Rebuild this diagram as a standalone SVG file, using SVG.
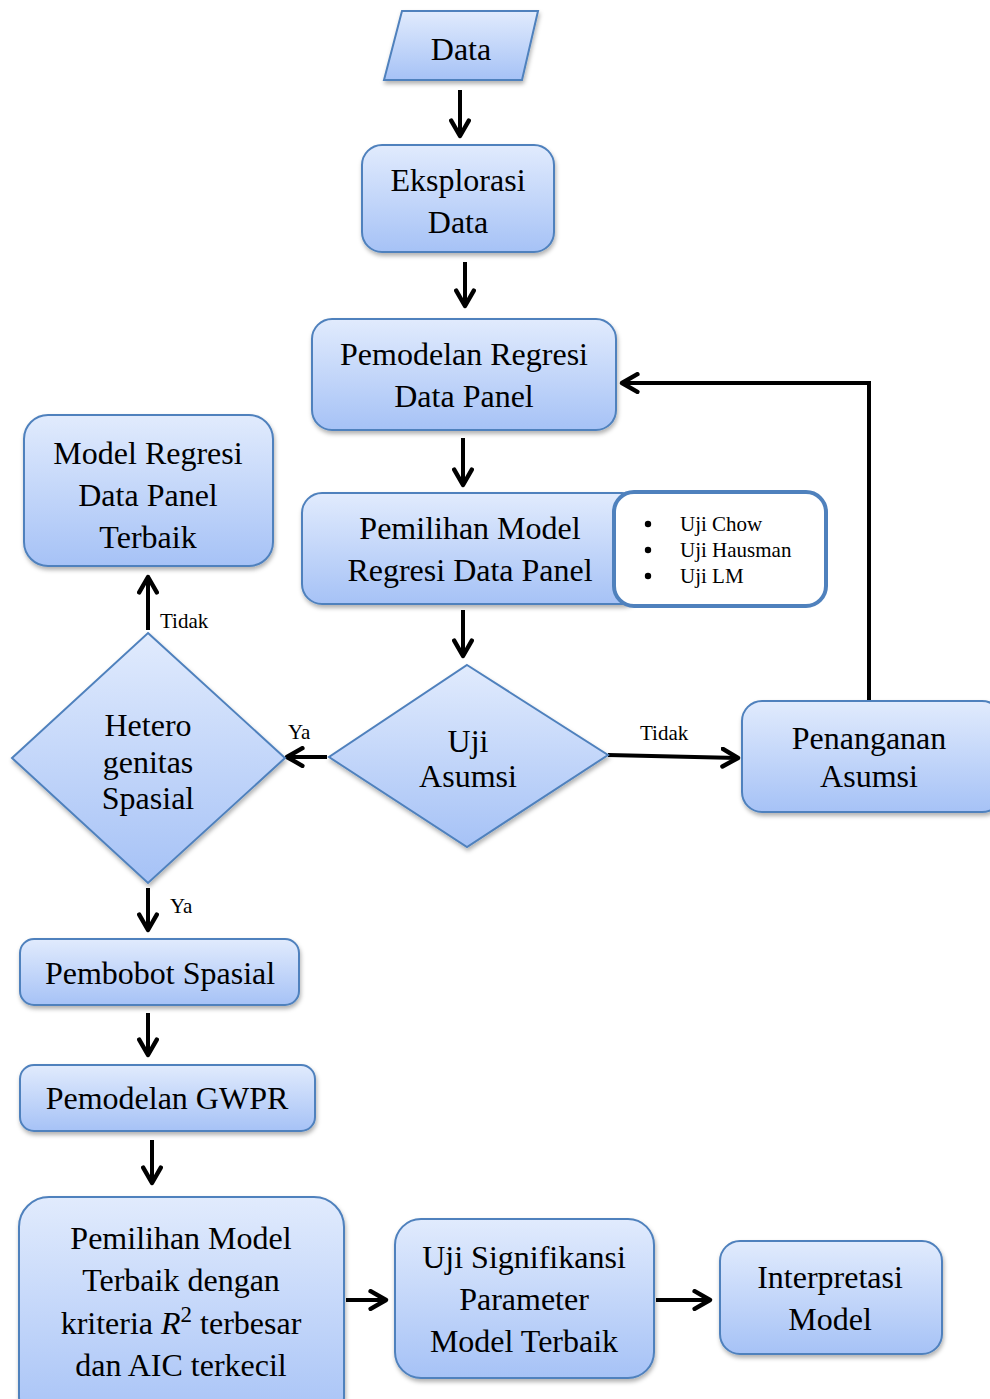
<svg xmlns="http://www.w3.org/2000/svg" width="990" height="1399" viewBox="0 0 990 1399">
<defs>
<linearGradient id="g" x1="0" y1="0" x2="0" y2="1">
<stop offset="0" stop-color="#e1ebfd"/>
<stop offset="1" stop-color="#a6c2f6"/>
</linearGradient>
<filter id="sh" x="-10%" y="-10%" width="125%" height="130%">
<feDropShadow dx="1" dy="3" stdDeviation="2" flood-color="#000" flood-opacity="0.3"/>
</filter>
<marker id="ah" viewBox="0 0 10 10" refX="8" refY="5" markerWidth="5.5" markerHeight="5.5" orient="auto" markerUnits="strokeWidth">
<path d="M1,1 L8,5 L1,9" fill="none" stroke="#000" stroke-width="2" stroke-linecap="round" stroke-linejoin="round"/>
</marker>
</defs>
<style>
.n{fill:url(#g);stroke:#4f81bd;stroke-width:2;filter:url(#sh)}
.t{font-family:"Liberation Serif",serif;font-size:32px;fill:#000;text-anchor:middle}
.s{font-family:"Liberation Serif",serif;font-size:21px;fill:#000}
.c{fill:none;stroke:#000;stroke-width:4;marker-end:url(#ah)}
</style>
<rect width="990" height="1399" fill="#fff"/>

<g id="connectors">
<line class="c" x1="460" y1="90" x2="460" y2="136"/>
<line class="c" x1="465" y1="262" x2="465" y2="306"/>
<line class="c" x1="463" y1="438" x2="463" y2="485"/>
<polyline class="c" points="869,700 869,383 622,383"/>
<line class="c" x1="463" y1="610" x2="463" y2="656"/>
<line class="c" x1="608" y1="755" x2="738" y2="758"/>
<line class="c" x1="327" y1="757" x2="287" y2="757"/>
<line class="c" x1="148" y1="630" x2="148" y2="577"/>
<line class="c" x1="148" y1="888" x2="148" y2="930"/>
<line class="c" x1="148" y1="1013" x2="148" y2="1055"/>
<line class="c" x1="152" y1="1140" x2="152" y2="1183"/>
<line class="c" x1="346" y1="1300" x2="386" y2="1300"/>
<line class="c" x1="656" y1="1300" x2="710" y2="1300"/>
<text class="s" x="640" y="740">Tidak</text>
<text class="s" x="288" y="739">Ya</text>
<text class="s" x="160" y="628">Tidak</text>
<text class="s" x="170" y="913">Ya</text>
</g>

<g id="data">
<polygon class="n" points="402,11 538,11 522,80 384,80"/>
<text class="t" x="461" y="60">Data</text>
</g>

<g id="eksplorasi">
<rect class="n" x="362" y="145" width="192" height="107" rx="20"/>
<text class="t" x="458" y="191">Eksplorasi</text>
<text class="t" x="458" y="233">Data</text>
</g>

<g id="pemodelan-regresi">
<rect class="n" x="312" y="319" width="304" height="111" rx="20"/>
<text class="t" x="464" y="365">Pemodelan Regresi</text>
<text class="t" x="464" y="407">Data Panel</text>
</g>

<g id="pemilihan-model">
<rect class="n" x="302" y="493" width="340" height="111" rx="20"/>
<text class="t" x="470" y="539">Pemilihan Model</text>
<text class="t" x="470" y="581">Regresi Data Panel</text>
</g>

<g id="uji-list">
<rect x="614" y="492" width="212" height="114" rx="20" fill="#fff" stroke="#4f81bd" stroke-width="4"/>
<circle cx="648" cy="524" r="3.2" fill="#000"/>
<circle cx="648" cy="550" r="3.2" fill="#000"/>
<circle cx="648" cy="576" r="3.2" fill="#000"/>
<text class="s" x="680" y="531">Uji Chow</text>
<text class="s" x="680" y="557">Uji Hausman</text>
<text class="s" x="680" y="583">Uji LM</text>
</g>

<g id="uji-asumsi">
<polygon class="n" points="467,665 608,755 467,847 329,757"/>
<text class="t" x="468" y="752">Uji</text>
<text class="t" x="468" y="787">Asumsi</text>
</g>

<g id="penanganan">
<rect class="n" x="742" y="701" width="260" height="111" rx="20"/>
<text class="t" x="869" y="749">Penanganan</text>
<text class="t" x="869" y="787">Asumsi</text>
</g>

<g id="hetero">
<polygon class="n" points="148,633 285,758 148,883 12,758"/>
<text class="t" x="148" y="736">Hetero</text>
<text class="t" x="148" y="773">genitas</text>
<text class="t" x="148" y="809">Spasial</text>
</g>

<g id="model-terbaik">
<rect class="n" x="24" y="415" width="249" height="151" rx="24"/>
<text class="t" x="148" y="464">Model Regresi</text>
<text class="t" x="148" y="506">Data Panel</text>
<text class="t" x="148" y="548">Terbaik</text>
</g>

<g id="pembobot">
<rect class="n" x="20" y="939" width="279" height="66" rx="14"/>
<text class="t" x="160" y="984">Pembobot Spasial</text>
</g>

<g id="gwpr">
<rect class="n" x="20" y="1065" width="295" height="66" rx="14"/>
<text class="t" x="167" y="1109">Pemodelan GWPR</text>
</g>

<g id="pemilihan-terbaik">
<rect class="n" x="19" y="1197" width="325" height="230" rx="30"/>
<text class="t" x="181" y="1249">Pemilihan Model</text>
<text class="t" x="181" y="1291">Terbaik dengan</text>
<text class="t" x="181" y="1334">kriteria <tspan font-style="italic">R</tspan><tspan font-size="23" dy="-12">2</tspan><tspan dy="12"> terbesar</tspan></text>
<text class="t" x="181" y="1376">dan AIC terkecil</text>
</g>

<g id="uji-signifikansi">
<rect class="n" x="395" y="1219" width="259" height="159" rx="26"/>
<text class="t" x="524" y="1268">Uji Signifikansi</text>
<text class="t" x="524" y="1310">Parameter</text>
<text class="t" x="524" y="1352">Model Terbaik</text>
</g>

<g id="interpretasi">
<rect class="n" x="720" y="1241" width="222" height="113" rx="20"/>
<text class="t" x="830" y="1288">Interpretasi</text>
<text class="t" x="830" y="1330">Model</text>
</g>
</svg>
